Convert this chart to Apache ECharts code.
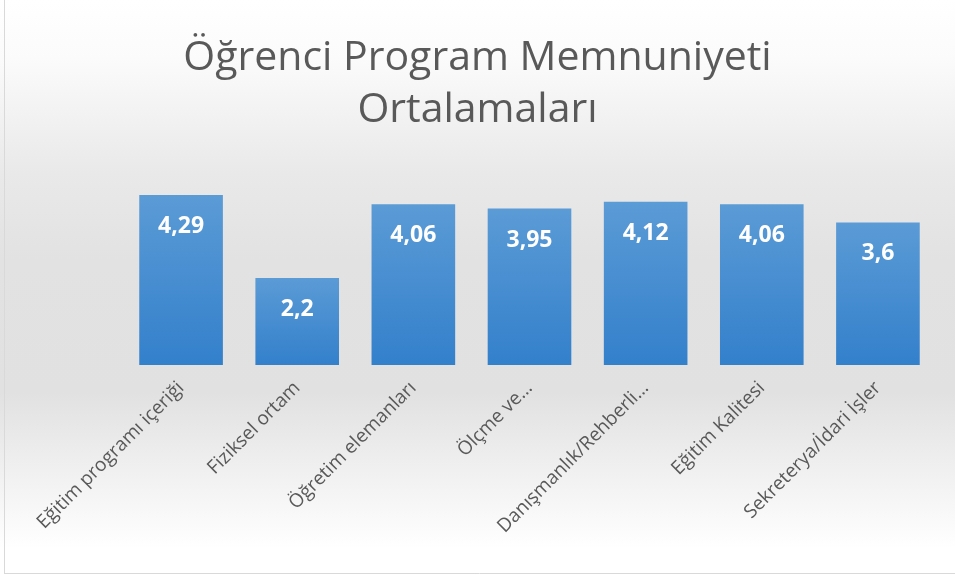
<!DOCTYPE html>
<html>
<head>
<meta charset="utf-8">
<script src="https://cdn.jsdelivr.net/npm/echarts@6/dist/echarts.min.js"></script>
<style>
	html, body { margin: 0; padding: 0; background: #fff; }
	#chartDiv { width: 955px; height: 577px; }
</style>
</head>
<body>
<div id="chartDiv"></div>
<script>
var categories = ['Eğitim programı içeriği', 'Fiziksel ortam', 'Öğretim elemanları', 'Ölçme ve…', 'Danışmanlık/Rehberli…', 'Eğitim Kalitesi', 'Sekreterya/İdari İşler'];
var values = [4.29, 2.2, 4.06, 3.95, 4.12, 4.06, 3.6];
var titleText = 'Öğrenci Program Memnuniyeti\nOrtalamaları';

var chart = echarts.init(document.getElementById('chartDiv'));

var option = {
	animation: false,
	backgroundColor: {
		type: 'linear', x: 0, y: 0, x2: 0, y2: 1,
		colorStops: [
			{ offset: 0, color: '#ffffff' },
			{ offset: 0.1, color: '#fbfbfb' },
			{ offset: 0.3, color: '#e9e9e9' },
			{ offset: 0.45, color: '#e2e2e2' },
			{ offset: 0.68, color: '#e1e1e1' },
			{ offset: 0.95, color: '#ffffff' },
			{ offset: 1, color: '#ffffff' }
		]
	},
	title: {
		text: titleText,
		left: 'center',
		top: 27,
		textStyle: {
			color: '#595959',
			fontFamily: 'Open Sans',
			fontSize: 41,
			fontWeight: 'normal',
			lineHeight: 52
		}
	},
	grid: {
		left: 123,
		right: 19,
		top: 167,
		bottom: 212,
		outerBoundsMode: 'none'
	},
	xAxis: {
		type: 'category',
		data: categories,
		axisLine: { show: false },
		axisTick: { show: false },
		axisLabel: {
			rotate: 45,
			interval: 0,
			margin: 20,
			color: '#595959',
			fontFamily: 'Open Sans',
			fontSize: 19
		}
	},
	yAxis: {
		type: 'value',
		min: 0,
		max: 5,
		show: false
	},
	graphic: [
		{ type: 'line', shape: { x1: 4.5, y1: 0, x2: 4.5, y2: 573 }, style: { stroke: '#d9d9d9', lineWidth: 1 } },
		{ type: 'line', shape: { x1: 4, y1: 573.5, x2: 955, y2: 573.5 }, style: { stroke: '#d9d9d9', lineWidth: 1 } }
	],
	series: [
		{
			type: 'bar',
			data: values,
			barCategoryGap: '28%',
			itemStyle: {
				color: {
					type: 'linear', x: 0, y: 0, x2: 0, y2: 1,
					colorStops: [
						{ offset: 0, color: '#5b9bd6' },
						{ offset: 1, color: '#3380cb' }
					]
				}
			},
			label: {
				show: true,
				position: 'insideTop',
				distance: 20,
				color: '#ffffff',
				fontFamily: 'Open Sans',
				fontWeight: 'bold',
				fontSize: 23,
				formatter: function (p) {
					return String(p.value).replace('.', ',');
				}
			}
		}
	]
};

chart.setOption(option);
</script>
</body>
</html>
